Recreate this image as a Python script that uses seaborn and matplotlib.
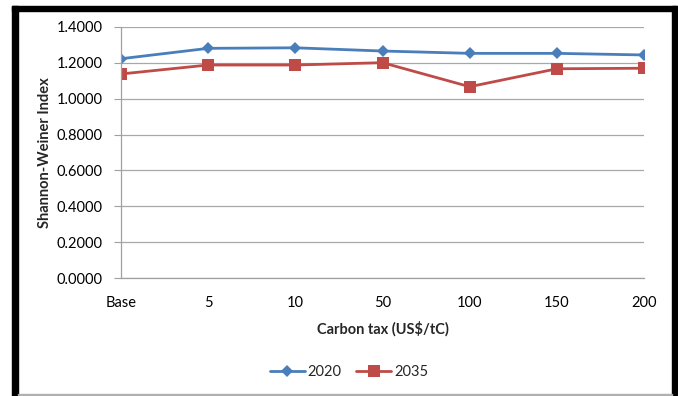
import matplotlib
matplotlib.use("Agg")
import matplotlib.pyplot as plt
import seaborn as sns
import pandas as pd
from matplotlib.patches import Rectangle
from matplotlib.lines import Line2D

categories = ["Base", "5", "10", "50", "100", "150", "200"]
s2020 = [1.223, 1.281, 1.284, 1.266, 1.253, 1.253, 1.244]
s2035 = [1.138, 1.188, 1.188, 1.201, 1.067, 1.167, 1.170]
yticks = [0.0, 0.2, 0.4, 0.6, 0.8, 1.0, 1.2, 1.4]

sns.set_theme(style="white")
plt.rcParams['font.family'] = ['Lato', 'DejaVu Sans']

df = pd.DataFrame({
    "pos": list(range(len(categories))) * 2,
    "value": s2020 + s2035,
    "year": ["2020"] * len(categories) + ["2035"] * len(categories),
})

fig = plt.figure(figsize=(6.78, 3.96), dpi=100)
W, H = 678, 396
ax = fig.add_axes([121 / W, 1 - 278 / H, (644 - 121) / W, (278 - 27) / H])

palette = {"2020": "#4A7EBB", "2035": "#BE4B48"}
sns.lineplot(data=df, x="pos", y="value", hue="year", style="year",
             markers={"2020": "D", "2035": "s"}, dashes=False,
             palette=palette, linewidth=2.0, markersize=8, markeredgewidth=0,
             ax=ax, legend=False)
for ln in ax.get_lines():
    if ln.get_marker() == "D":
        ln.set_markersize(6.5)
    elif ln.get_marker() == "s":
        ln.set_markersize(8.5)

ax.set_xlim(0, len(categories) - 1)
ax.set_ylim(0, 1.4)
ax.set_xticks(range(len(categories)))
ax.set_xticklabels(categories)
ax.set_yticks(yticks)
ax.set_yticklabels([f"{v:.4f}" for v in yticks])
ax.tick_params(axis="both", labelsize=10.5, colors="#000000")
ax.tick_params(axis="x", length=0, pad=13)
ax.tick_params(axis="y", length=5, width=0.8, color="#A0A0A0", direction="out", pad=8, left=True)
ax.grid(axis="y", color="#A8A8A8", linewidth=0.9)
ax.grid(axis="x", visible=False)
for s in ["top", "right"]:
    ax.spines[s].set_visible(False)
for s in ["left", "bottom"]:
    ax.spines[s].set_color("#A0A0A0")
    ax.spines[s].set_linewidth(0.9)

ax.set_xlabel("Carbon tax (US$/tC)", fontsize=10.5, fontweight="bold")
ax.set_ylabel("Shannon-Weiner Index", fontsize=10.5, fontweight="bold")
ax.yaxis.set_label_coords((45 - 121) / 523, 0.5)
ax.xaxis.set_label_coords(0.5, -(329 - 278) / 251)
ax.xaxis.label.set_va("center")
ax.yaxis.label.set_va("center")

handles = [Line2D([], [], color="#4A7EBB", marker="D", markersize=6, lw=2.0, markeredgewidth=0),
           Line2D([], [], color="#BE4B48", marker="s", markersize=8, lw=2.0, markeredgewidth=0)]
fig.legend(handles, ["2020", "2035"], loc="center", bbox_to_anchor=(349 / W, 1 - 372 / H),
           ncol=2, frameon=False, fontsize=10.5, handlelength=2.4, columnspacing=1.0, handletextpad=0.2)

# frame
fig.patches.append(Rectangle((12 / W, 0), 6 / W, 1 - 6 / H, transform=fig.transFigure, color="black", zorder=0))
fig.patches.append(Rectangle((12 / W, 1 - 11 / H), (677 - 12) / W, 5 / H, transform=fig.transFigure, color="black", zorder=0))
fig.patches.append(Rectangle((672 / W, 0), 5 / W, 1 - 6 / H, transform=fig.transFigure, color="black", zorder=0))
fig.patches.append(Rectangle((18 / W, 1 / H), (672 - 18) / W, 1 / H, transform=fig.transFigure, color="#B0B0B0", zorder=0))

fig.savefig("out.png", dpi=100)
